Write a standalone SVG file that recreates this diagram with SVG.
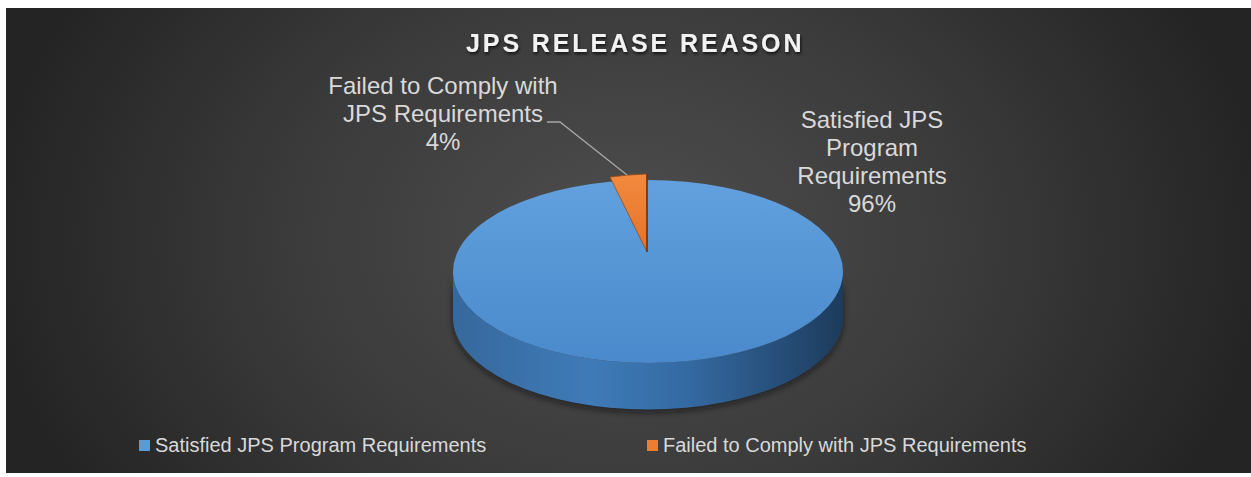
<svg xmlns="http://www.w3.org/2000/svg" width="1251" height="477" viewBox="0 0 1251 477">
  <defs>
    <radialGradient id="bg" gradientUnits="userSpaceOnUse" cx="628" cy="240" r="640" gradientTransform="translate(628 240) scale(1 0.75) translate(-628 -240)">
      <stop offset="0" stop-color="#4e4e4e"/>
      <stop offset="0.55" stop-color="#3a3a3a"/>
      <stop offset="1" stop-color="#242424"/>
    </radialGradient>
    <linearGradient id="topFace" x1="0" y1="0" x2="0" y2="1">
      <stop offset="0" stop-color="#62a1de"/>
      <stop offset="1" stop-color="#4a89cb"/>
    </linearGradient>
    <linearGradient id="sideFace" x1="0" y1="0" x2="1" y2="0">
      <stop offset="0" stop-color="#36689c"/>
      <stop offset="0.35" stop-color="#3f7bb8"/>
      <stop offset="0.6" stop-color="#346aa2"/>
      <stop offset="1" stop-color="#1d3b5c"/>
    </linearGradient>
    <linearGradient id="orange" x1="0" y1="0" x2="0" y2="1">
      <stop offset="0" stop-color="#f28a3e"/>
      <stop offset="1" stop-color="#e4722a"/>
    </linearGradient>
    <filter id="titleShadow" x="-10%" y="-30%" width="120%" height="160%">
      <feDropShadow dx="1" dy="2" stdDeviation="1.5" flood-color="#000" flood-opacity="0.7"/>
    </filter>
    <filter id="pieShadow" x="-10%" y="-10%" width="120%" height="130%">
      <feGaussianBlur stdDeviation="3"/>
    </filter>
    <style>
      .lbl { font-family: "Liberation Sans", Arial, sans-serif; font-size: 24px; fill: #d9d9d9; text-anchor: middle; }
      .leg { font-family: "Liberation Sans", Arial, sans-serif; font-size: 20px; fill: #d9d9d9; }
      .title { font-family: "Liberation Sans", Arial, sans-serif; font-size: 25px; font-weight: bold; fill: #f2f2f2; letter-spacing: 2.9px; }
      .leader { stroke: #a6a6a6; stroke-width: 1.3; fill: none; }
    </style>
  </defs>

  <rect x="0" y="0" width="1251" height="477" fill="#ffffff"/>
  <rect id="background" x="6" y="8" width="1245" height="465" fill="url(#bg)"/>

  <g id="title">
    <text class="title" x="466" y="52" filter="url(#titleShadow)">JPS RELEASE REASON</text>
  </g>

  <g id="pie-satisfied">
    <path d="M453,275 A195,91.5 0 0,0 843,275 L843,321 A195,91.5 0 0,1 453,321 Z" fill="#111" opacity="0.6" filter="url(#pieShadow)"/>
    <path d="M453,271.5 A195,91.5 0 0,0 843,271.5 L843,318 A195,91.5 0 0,1 453,318 Z" fill="url(#sideFace)"/>
    <ellipse cx="648" cy="271.5" rx="195" ry="91.5" fill="url(#topFace)"/>
  </g>

  <g id="pie-failed">
    <path d="M647,252 L610,177 A195,91.5 0 0,1 647,174 Z" fill="url(#orange)" stroke="#9a4a18" stroke-width="0.8"/>
    <line x1="647" y1="174" x2="647" y2="252" stroke="#6e3412" stroke-width="1.6"/>
  </g>

  <g id="label-failed">
    <text class="lbl" x="443" y="94">Failed to Comply with</text>
    <text class="lbl" x="443" y="122">JPS Requirements</text>
    <text class="lbl" x="443" y="150">4%</text>
  </g>

  <g id="label-satisfied">
    <text class="lbl" x="872" y="128">Satisfied JPS</text>
    <text class="lbl" x="872" y="156">Program</text>
    <text class="lbl" x="872" y="184">Requirements</text>
    <text class="lbl" x="872" y="212">96%</text>
  </g>

  <g id="connectors">
    <polyline class="leader" points="547,122 560,122 627,175"/>
  </g>

  <g id="legend">
    <rect x="139" y="440" width="11" height="11" fill="#5b9bd5"/>
    <text class="leg" x="155" y="452">Satisfied JPS Program Requirements</text>
    <rect x="647" y="440" width="11" height="11" fill="#ed7d31"/>
    <text class="leg" x="663" y="452">Failed to Comply with JPS Requirements</text>
  </g>
</svg>
